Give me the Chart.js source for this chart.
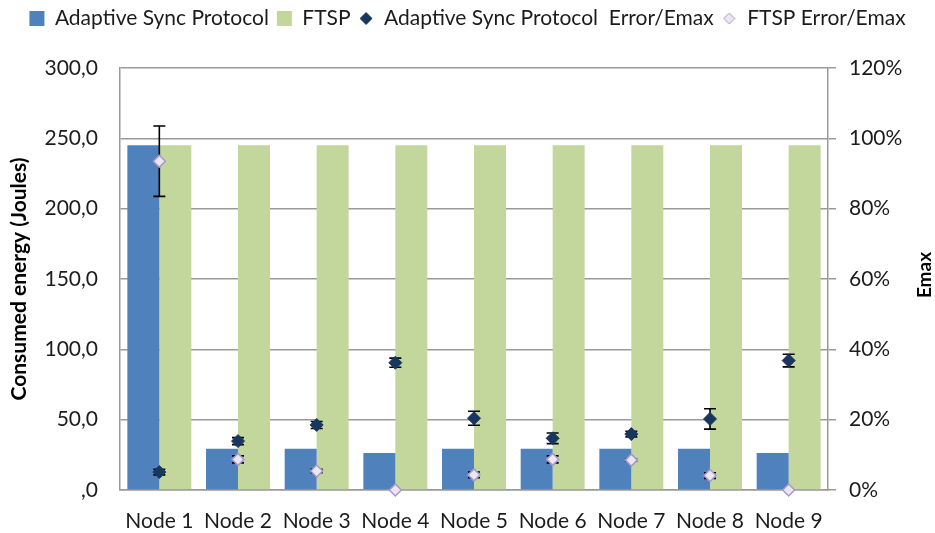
<!DOCTYPE html>
<html><head><meta charset="utf-8">
<script src="https://cdn.jsdelivr.net/npm/chart.js@4/dist/chart.umd.min.js"></script>
<style>html,body{margin:0;padding:0;background:#fff}#wrap{width:935px;height:533px;position:relative}</style>
</head><body><div id="wrap"><canvas id="c"></canvas></div>
<script>
// ---- data ----
const categories = ['Node 1','Node 2','Node 3','Node 4','Node 5','Node 6','Node 7','Node 8','Node 9'];
const adaptiveEnergy = [245, 29.4, 29.4, 26.3, 29.4, 29.4, 29.4, 29.4, 26.3];   // Joules
const ftspEnergy     = [245, 245, 245, 245, 245, 245, 245, 245, 245];          // Joules
const adaptiveErrEmax = [5.1, 13.9, 18.5, 36.2, 20.4, 14.7, 15.9, 20.2, 36.8];  // %
const ftspErrEmax     = [93.5, 8.7, 5.4, 0, 4.3, 8.7, 8.5, 4.1, 0];             // %
const adaptiveErrBars = [0.8, 1.0, 1.0, 1.3, 2.0, 1.5, 0.8, 2.9, 1.8];          // ± %
const ftspErrBars     = [10.0, 1.0, 0.5, 0, 0.8, 1.0, 0.3, 0.8, 0];             // ± %
const energyTickLabels = [',0','50,0','100,0','150,0','200,0','250,0','300,0'];
const emaxTickLabels   = ['0%','20%','40%','60%','80%','100%','120%'];
const seriesLabels = ['Adaptive Sync Protocol','FTSP','Adaptive Sync Protocol  Error/Emax','FTSP Error/Emax'];

const FONT = 'Lato';
const FS = 21;
const TXT = '#1c1c1c';
const GRID = '#9a9a9a';
const C_BLUE = '#4F81BD', C_GREEN = '#C3D69B', C_NAVY = '#17375E', C_LAV_FILL = '#ECE6F3', C_LAV_BORDER = '#A898CC';

function legendIcon(kind, fill, stroke, size){
  const cv = document.createElement('canvas');
  cv.width = size + 2; cv.height = size + 2;
  const g = cv.getContext('2d');
  const c = (size + 2) / 2, h = size / 2;
  g.fillStyle = fill; g.strokeStyle = stroke; g.lineWidth = 1;
  if (kind === 'rect') { g.fillRect(1, 1, size, size); }
  else { g.beginPath(); g.moveTo(c, c - h); g.lineTo(c + h, c); g.lineTo(c, c + h); g.lineTo(c - h, c); g.closePath(); g.fill(); g.stroke(); }
  return cv;
}
const legendIcons = [
  legendIcon('rect', C_BLUE, C_BLUE, 15),
  legendIcon('rect', C_GREEN, C_GREEN, 15),
  legendIcon('diamond', C_NAVY, C_NAVY, 12),
  legendIcon('diamond', C_LAV_FILL, C_LAV_BORDER, 11)
];

const errorBarPlugin = {
  id: 'errbars',
  beforeDatasetDraw(chart, args) {
    const ds = chart.data.datasets[args.index];
    if (!ds.errorBars) return;
    const y1 = chart.scales.y1, ctx = chart.ctx;
    ctx.save();
    ctx.strokeStyle = '#000'; ctx.lineWidth = 1.6;
    args.meta.data.forEach((pt, i) => {
      const e = ds.errorBars[i];
      if (!e) return;
      const v = ds.data[i];
      const t = y1.getPixelForValue(v + e), b = y1.getPixelForValue(v - e);
      ctx.beginPath();
      ctx.moveTo(pt.x, t); ctx.lineTo(pt.x, b);
      ctx.moveTo(pt.x - 6, t); ctx.lineTo(pt.x + 6, t);
      ctx.moveTo(pt.x - 6, b); ctx.lineTo(pt.x + 6, b);
      ctx.stroke();
    });
    ctx.restore();
  }
};

const rightTitlePlugin = {
  id: 'rightTitle',
  afterDraw(chart) {
    const ctx = chart.ctx, a = chart.chartArea;
    ctx.save();
    ctx.translate(925, (a.top + a.bottom) / 2 - 4);
    ctx.rotate(-Math.PI / 2);
    ctx.font = 'bold 19px ' + FONT;
    ctx.fillStyle = '#000';
    ctx.textAlign = 'center'; ctx.textBaseline = 'middle';
    ctx.fillText('Emax', 0, 0);
    ctx.restore();
  }
};

const legendHeightPlugin = {
  id: 'legendHeight',
  beforeLayout(chart) {
    const lg = chart.legend;
    if (lg && !lg._fixed) {
      const f = lg.fit.bind(lg);
      lg.fit = function () { f(); this.height = 68; };
      lg._fixed = true;
    }
  }
};

new Chart(document.getElementById('c'), {
  type: 'bar',
  data: {
    labels: categories,
    datasets: [
      { type: 'bar', label: seriesLabels[0], data: adaptiveEnergy, backgroundColor: C_BLUE, yAxisID: 'y', order: 1,
        barPercentage: 1.0, categoryPercentage: 0.813 },
      { type: 'bar', label: seriesLabels[1], data: ftspEnergy, backgroundColor: C_GREEN, yAxisID: 'y', order: 1,
        barPercentage: 1.0, categoryPercentage: 0.813 },
      { type: 'line', label: seriesLabels[2], data: adaptiveErrEmax, yAxisID: 'y1', order: 0, showLine: false, clip: false,
        pointStyle: 'rectRot', pointRadius: 6.5, pointBackgroundColor: C_NAVY, pointBorderColor: C_NAVY, pointBorderWidth: 1,
        backgroundColor: C_NAVY, borderColor: C_NAVY, errorBars: adaptiveErrBars },
      { type: 'line', label: seriesLabels[3], data: ftspErrEmax, yAxisID: 'y1', order: 0, showLine: false, clip: false,
        pointStyle: 'rectRot', pointRadius: 6, pointBackgroundColor: C_LAV_FILL, pointBorderColor: C_LAV_BORDER, pointBorderWidth: 1.5,
        backgroundColor: C_LAV_FILL, borderColor: C_LAV_BORDER, errorBars: ftspErrBars }
    ]
  },
  options: {
    responsive: true, maintainAspectRatio: false, animation: false,
    layout: { padding: 0 },
    plugins: {
      tooltip: { enabled: false },
      legend: {
        position: 'top',
        labels: {
          usePointStyle: true,
          boxWidth: 15, boxHeight: 15,
          padding: 8,
          color: TXT,
          font: { family: FONT, size: FS },
          sort: (a, b) => a.datasetIndex - b.datasetIndex,
          generateLabels(chart) {
            const items = Chart.defaults.plugins.legend.labels.generateLabels(chart);
            items.forEach(it => { it.pointStyle = legendIcons[it.datasetIndex]; });
            return items;
          }
        }
      }
    },
    scales: {
      x: {
        grid: { display: false },
        border: { display: true, color: GRID, width: 1.5 },
        ticks: { color: TXT, font: { family: FONT, size: FS }, padding: 11, maxRotation: 0 },
        afterFit(s) { s.height = 43; }
      },
      y: {
        position: 'left', min: 0, max: 300,
        grid: { color: GRID, lineWidth: 1.5, drawTicks: false },
        border: { display: true, color: GRID, width: 1.5 },
        ticks: { stepSize: 50, color: TXT, font: { family: FONT, size: FS }, padding: 22,
                 callback: (v, i) => energyTickLabels[i] },
        title: { display: true, text: 'Consumed energy (Joules)', color: '#000',
                 font: { family: FONT, size: 21, weight: 'bold' }, padding: { top: 7, bottom: 0 } },
        afterFit(s) { s.width = 120; }
      },
      y1: {
        position: 'right', min: 0, max: 120,
        grid: { drawOnChartArea: false, color: GRID, lineWidth: 1.5, drawTicks: true, tickLength: 8 },
        border: { display: true, color: GRID, width: 1.5 },
        ticks: { stepSize: 20, color: TXT, font: { family: FONT, size: FS }, padding: 13,
                 callback: (v, i) => emaxTickLabels[i] },
        afterFit(s) { s.width = 107; }
      }
    }
  },
  plugins: [errorBarPlugin, rightTitlePlugin, legendHeightPlugin]
});
</script>
</body></html>
